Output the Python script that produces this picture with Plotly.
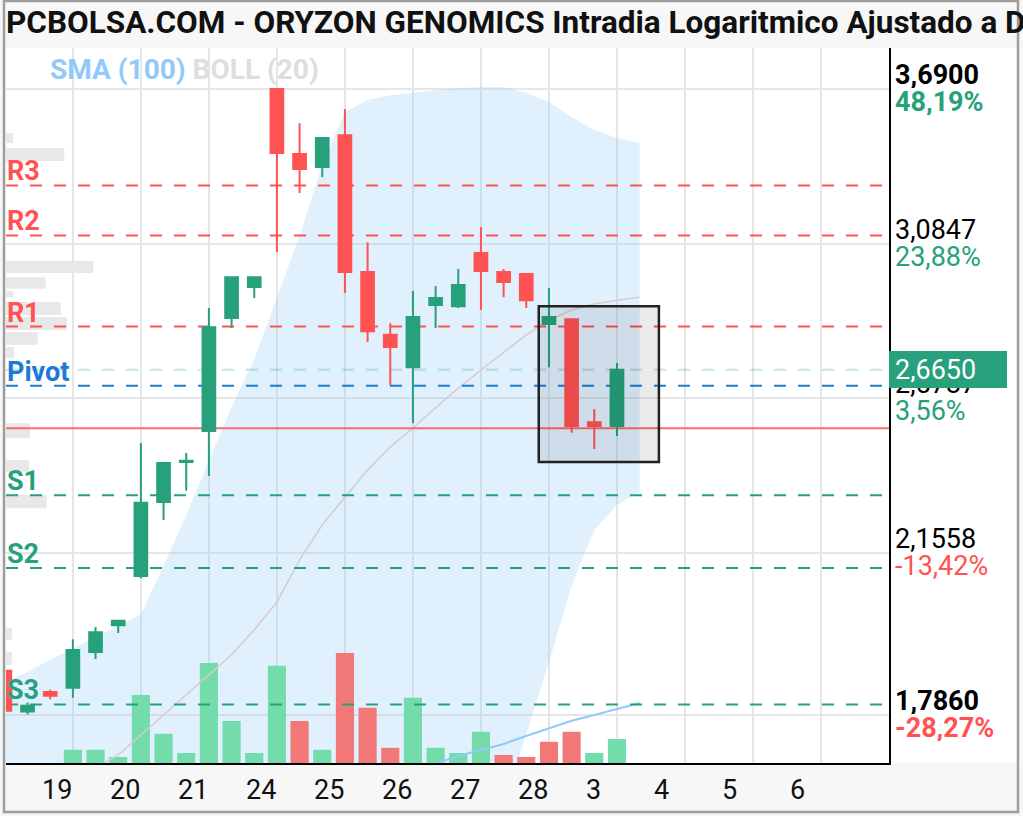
import math
import plotly.graph_objects as go

# ---------------- data ----------------
candle_idx = list(range(-2, 26))
opens = [1.880, 1.793, 1.834, 1.843, 1.921, 1.982, 2.098, 2.286, 2.395, 2.482, 2.830, 2.933, 3.690, 3.422,
         3.371, 3.498, 2.985, 2.775, 2.673, 2.873, 2.869, 3.051, 2.985, 2.978, 2.810, 2.826, 2.508, 2.497]
highs = [1.888, 1.812, 1.839, 1.950, 1.978, 1.992, 2.448, 2.395, 2.420, 2.863, 2.967, 2.967, 3.690, 3.547,
         3.486, 3.605, 3.090, 2.813, 2.920, 2.937, 2.995, 3.145, 2.995, 2.978, 2.930, 2.826, 2.546, 2.686]
lows = [1.786, 1.787, 1.819, 1.822, 1.906, 1.964, 2.093, 2.239, 2.316, 2.356, 2.797, 2.896, 3.055, 3.271,
        3.332, 2.913, 2.752, 2.618, 2.505, 2.797, 2.863, 2.856, 2.899, 2.863, 2.673, 2.477, 2.431, 2.468]
closes = [1.795, 1.805, 1.826, 1.926, 1.966, 1.992, 2.284, 2.392, 2.398, 2.800, 2.967, 2.967, 3.426, 3.363,
          3.486, 2.985, 2.787, 2.736, 2.833, 2.896, 2.940, 2.988, 2.950, 2.889, 2.833, 2.497, 2.497, 2.665]
volumes = [0, 0, 0, 33, 33, 15, 170, 73, 25, 250, 105, 25, 243, 105, 33, 275, 138, 38, 163, 38, 25, 78,
           20, 15, 53, 78, 25, 60]

band_idx = list(range(-2, 27))
boll_upper = [1.856, 1.877, 1.904, 1.930, 1.955, 1.980, 2.008, 2.123, 2.252, 2.398, 2.552, 2.698, 2.899,
              3.112, 3.379, 3.593, 3.643, 3.664, 3.673, 3.686, 3.694, 3.699, 3.699, 3.673, 3.635, 3.572,
              3.519, 3.486, 3.466]
boll_lower = [1.62, 1.62, 1.61, 1.60, 1.58, 1.55, 1.51, 1.46, 1.41, 1.36, 1.32, 1.29, 1.26, 1.24, 1.23,
              1.23, 1.24, 1.26, 1.29, 1.33, 1.39, 1.48, 1.601, 1.747, 1.899, 2.074, 2.213, 2.278, 2.313]
boll_mid = [None, None, None, None, 1.680, 1.705, 1.745, 1.786, 1.828, 1.871, 1.915, 1.971, 2.036, 2.138,
            2.226, 2.299, 2.373, 2.437, 2.491, 2.550, 2.609, 2.664, 2.720, 2.775, 2.823, 2.856, 2.876,
            2.889, 2.899]
sma100 = [None] * 18 + [1.670, 1.688, 1.703, 1.715, 1.727, 1.743, 1.759, 1.774, 1.786, 1.799, 1.811]

level_names = ["R3", "R2", "R1", "Pivot", "S1", "S2", "S3"]
level_values = [3.300, 3.114, 2.802, 2.616, 2.304, 2.118, 1.808]
prev_close = 2.49
last_price = 2.665
last_price_label = "2,6650"

price_ticks = [3.69, 3.0847, 2.5787, 2.1558, 1.786]
price_tick_labels = ["3,6900", "3,0847", "2,5787", "2,1558", "1,7860"]
pct_labels = ["48,19%", "23,88%", "3,56%", "-13,42%", "-28,27%"]

day_labels = ["19", "20", "21", "24", "25", "26", "27", "28", "3", "4", "5", "6"]

profile_hi = [3.507, 3.446, 3.023, 2.967, 2.920, 2.883, 2.833, 2.784, 2.736, 2.505, 2.400, 2.305, 1.976, 1.921]
profile_lo = [3.466, 3.395, 2.981, 2.927, 2.899, 2.840, 2.791, 2.743, 2.702, 2.462, 2.367, 2.270, 1.948, 1.893]
profile_vol = [8, 66, 99, 45, 8, 62, 69, 36, 9, 27, 26, 46, 7, 7]

highlight_x = [21.55, 26.85]
highlight_y = [2.395, 2.869]

title_text = "PCBOLSA.COM - ORYZON GENOMICS Intradia Logaritmico Ajustado a D"

# ---------------- style ----------------
GREEN = "#26a17b"
RED = "#ff5252"
BLUE = "#1e78d7"
VOL_GREEN = "#74dcab"
VOL_RED = "#f27878"
GRID = "#e6e6e6"

W, H = 1023, 816
L_PX, R_PX, T_PX, B_PX = 6, 889, 48, 763
PW, PH = R_PX - L_PX, B_PX - T_PX


def px_x(px):
    return (px - L_PX) / PW


def px_y(py):
    return (B_PX - py) / PH


X_RANGE = [-1.95, 37.0]
Y_RANGE = [0.2277, 0.5877]

fig = go.Figure()

# Bollinger band fill (primary price axis)
fig.add_trace(go.Scatter(x=band_idx, y=boll_upper, mode="lines", line=dict(width=0, color="rgba(0,0,0,0)"),
                         hoverinfo="skip", showlegend=False, yaxis="y"))
fig.add_trace(go.Scatter(x=band_idx, y=boll_lower, mode="lines", line=dict(width=0, color="rgba(0,0,0,0)"),
                         fill="tonexty", fillcolor="rgba(144,202,249,0.28)", hoverinfo="skip",
                         showlegend=False, yaxis="y"))

# Volume bars
vol_colors = [VOL_GREEN if (i == 0 or closes[i] >= closes[i - 1]) else VOL_RED for i in range(len(closes))]
fig.add_trace(go.Bar(x=candle_idx, y=volumes, marker=dict(color=vol_colors, line=dict(width=0)),
                     hoverinfo="skip", showlegend=False, yaxis="y2"))

# Level lines, BOLL middle and SMA (y3)
fig.add_trace(go.Scatter(x=band_idx, y=boll_mid, mode="lines", line=dict(color="#d7ccc8", width=1.5),
                         hoverinfo="skip", showlegend=False, yaxis="y3"))
fig.add_trace(go.Scatter(x=band_idx, y=sma100, mode="lines", line=dict(color="#90caf9", width=2),
                         hoverinfo="skip", showlegend=False, yaxis="y3"))

fig.add_trace(go.Scatter(x=X_RANGE, y=[last_price, last_price], mode="lines",
                         line=dict(color="rgba(38,161,123,0.22)", width=2.5, dash="12px,12px"),
                         hoverinfo="skip", showlegend=False, yaxis="y3"))
fig.add_trace(go.Scatter(x=X_RANGE, y=[prev_close, prev_close], mode="lines",
                         line=dict(color="rgba(255,82,82,0.85)", width=2),
                         hoverinfo="skip", showlegend=False, yaxis="y3"))
for name, val in zip(level_names, level_values):
    col = RED if name.startswith("R") else (BLUE if name == "Pivot" else GREEN)
    fig.add_trace(go.Scatter(x=X_RANGE, y=[val, val], mode="lines",
                             line=dict(color=col, width=2, dash="12px,12px"),
                             hoverinfo="skip", showlegend=False, yaxis="y3"))

# Candles (y4)
fig.add_trace(go.Candlestick(x=candle_idx, open=opens, high=highs, low=lows, close=closes,
                             increasing=dict(line=dict(color=GREEN, width=2), fillcolor=GREEN),
                             decreasing=dict(line=dict(color=RED, width=2), fillcolor=RED),
                             whiskerwidth=0, hoverinfo="skip", showlegend=False, yaxis="y4"))

shapes = []
shapes.append(dict(type="rect", xref="paper", yref="paper", x0=1, x1=px_x(1017), y0=0, y1=1,
                   fillcolor="white", line=dict(width=0), layer="below"))
for hi, lo, v in zip(profile_hi, profile_lo, profile_vol):
    shapes.append(dict(type="rect", xref="x2", yref="y", x0=0, x1=v, y0=lo, y1=hi,
                       fillcolor="rgba(0,0,0,0.09)", line=dict(width=0), layer="below"))
shapes.append(dict(type="rect", xref="x", yref="y", x0=highlight_x[0], x1=highlight_x[1],
                   y0=highlight_y[0], y1=highlight_y[1], fillcolor="rgba(0,0,0,0.08)",
                   line=dict(color="#222222", width=2.5), layer="above"))
shapes.append(dict(type="rect", xref="paper", yref="paper", x0=px_x(4), x1=px_x(1018), y0=px_y(812),
                   y1=px_y(1), fillcolor="rgba(0,0,0,0)", line=dict(color="#9e9e9e", width=2.5),
                   layer="above"))

annotations = []
annotations.append(dict(text="<b>" + title_text + "</b>", xref="paper", yref="paper", x=px_x(4), y=px_y(23),
                        xanchor="left", yanchor="middle", showarrow=False,
                        font=dict(family="Roboto", size=31.5, color="#111111")))
annotations.append(dict(text="<b><span style='color:#90caf9'>SMA (100)</span> "
                             "<span style='color:#dedede'>BOLL (20)</span></b>",
                        xref="paper", yref="paper", x=px_x(48), y=px_y(69), xanchor="left",
                        yanchor="middle", showarrow=False, font=dict(family="Roboto", size=28)))
for name, val in zip(level_names, level_values):
    col = RED if name.startswith("R") else (BLUE if name == "Pivot" else GREEN)
    annotations.append(dict(text="<b>" + name + "</b>", xref="paper", yref="y", x=0, y=math.log10(val),
                            xanchor="left", yanchor="middle", yshift=14, xshift=-1, showarrow=False,
                            font=dict(family="Roboto", size=27, color=col)))
for k, lab in enumerate(day_labels):
    annotations.append(dict(text=lab, xref="x", yref="paper", x=3 * k - 0.45, y=px_y(790),
                            xanchor="left", yanchor="middle", showarrow=False,
                            font=dict(family="Roboto", size=27, color="#111111")))

# right-side price / percentage labels
for n, (p, pc) in enumerate(zip(price_ticks, pct_labels)):
    pcol = GREEN if not pc.startswith("-") else RED
    bold = (n == 0 or n == len(price_ticks) - 1)
    t1 = price_tick_labels[n]
    t2 = pc
    if bold:
        t1, t2 = "<b>" + t1 + "</b>", "<b>" + t2 + "</b>"
    annotations.append(dict(text=t1, xref="paper", yref="y", x=1, y=math.log10(p), xanchor="left",
                            yanchor="middle", xshift=5, yshift=14, showarrow=False, height=26,
                            borderpad=0, font=dict(family="Roboto", size=27, color="black")))
    annotations.append(dict(text=t2, xref="paper", yref="y", x=1, y=math.log10(p), xanchor="left",
                            yanchor="middle", xshift=5, yshift=-13, showarrow=False, height=26,
                            borderpad=0, font=dict(family="Roboto", size=27, color=pcol)))

annotations.append(dict(text=last_price_label, xref="paper", yref="y", x=1, y=math.log10(last_price),
                        xanchor="left", yanchor="middle", showarrow=False, bgcolor=GREEN,
                        width=106, height=25, align="left", borderpad=6, borderwidth=0,
                        font=dict(family="Roboto", size=27, color="white")))

fig.update_layout(
    width=W, height=H,
    margin=dict(l=L_PX, r=W - R_PX, t=T_PX, b=H - B_PX, pad=0),
    paper_bgcolor="#f7f7f7", plot_bgcolor="white",
    showlegend=False, bargap=0.2, boxgap=0.2,
    xaxis=dict(range=X_RANGE, tickvals=list(range(1, 37, 3)), showticklabels=False, ticks="",
               showgrid=True, gridcolor=GRID, gridwidth=2, zeroline=False,
               showline=True, linecolor="black", linewidth=2, rangeslider=dict(visible=False),
               fixedrange=True),
    xaxis2=dict(overlaying="x", range=[0, 1000], visible=False, fixedrange=True),
    yaxis=dict(type="log", range=Y_RANGE, side="right", tickvals=price_ticks, showticklabels=False,
               ticks="", showgrid=True, gridcolor=GRID, gridwidth=2,
               zeroline=False, showline=True, linecolor="black", linewidth=2, fixedrange=True),
    yaxis2=dict(overlaying="y", range=[0, 1787.5], visible=False, fixedrange=True),
    yaxis3=dict(overlaying="y", type="log", range=Y_RANGE, visible=False, fixedrange=True),
    yaxis4=dict(overlaying="y", type="log", range=Y_RANGE, visible=False, fixedrange=True),
    shapes=shapes,
    annotations=annotations,
)

fig.write_html("out.html")
